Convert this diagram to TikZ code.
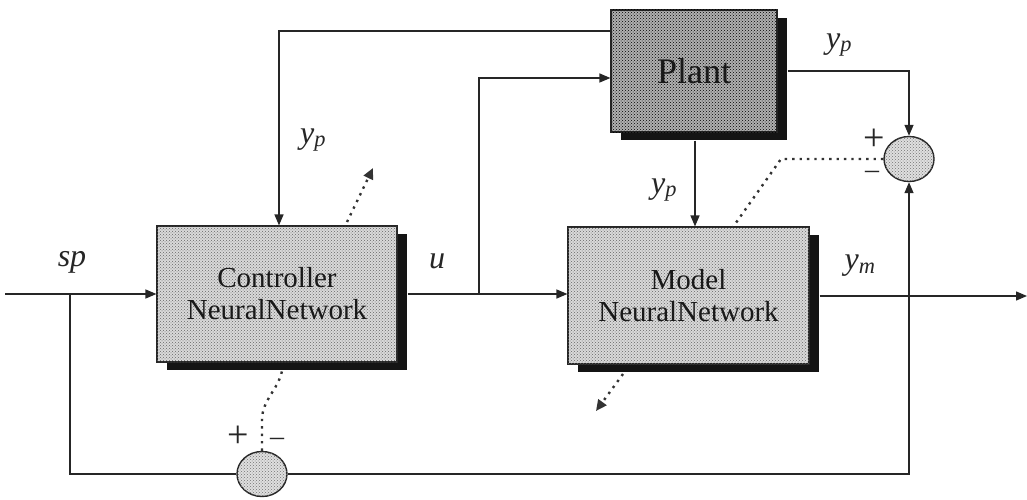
\documentclass[tikz,border=0pt]{standalone}
\usepackage{fontspec}
\setmainfont{Liberation Serif}
\usetikzlibrary{arrows.meta,shapes.geometric,patterns,shadows}

\begin{document}
\begin{tikzpicture}[x=1pt,y=-1pt,
  wire/.style={line width=1.4pt,draw=black!85},
  arr/.style={wire,-{Triangle[length=11pt,width=9pt]}},
  dots/.style={line width=2.4pt,draw=black!80,dash pattern=on 2.4pt off 5pt},
  dotarr/.style={dots,-{Triangle[length=11pt,width=10pt]}},
  boxbase/.style={draw=black!85,line width=1.1pt,rectangle,
    drop shadow={shadow xshift=10pt,shadow yshift=-8pt,fill=black!92,opacity=1},
    text=black!90,align=center,inner sep=0pt},
  blockbox/.style={boxbase,fill=gray!30,
    postaction={pattern=crosshatch dots,pattern color=black!60},
    font=\fontsize{29}{32}\selectfont},
  plantbox/.style={boxbase,fill=gray!62,
    postaction={pattern=crosshatch dots,pattern color=black},
    font=\fontsize{36}{38}\selectfont},
  sumnode/.style={draw=black!85,line width=1.4pt,ellipse,minimum width=50pt,
    minimum height=45pt,inner sep=0pt,fill=gray!25,
    postaction={pattern=crosshatch dots,pattern color=black!55}},
  lbl/.style={font=\fontsize{32}{32}\selectfont\itshape,text=black!85},
  plussign/.style={font=\fontsize{38}{38}\selectfont,text=black!85,inner sep=0pt,
    text height=14pt,text depth=0pt},
  minussign/.style={font=\fontsize{28}{28}\selectfont,text=black!85,inner sep=0pt,
    text height=10pt,text depth=0pt}]

\useasboundingbox (0,0) rectangle (1027,500);

% blocks
\node[blockbox,minimum width=240pt,minimum height=136pt] (ctrl) at (277,294)
  {Controller\\NeuralNetwork};
\node[blockbox,minimum width=241pt,minimum height=137pt] (model) at (688.5,295.5)
  {Model\\NeuralNetwork};
\node[plantbox,minimum width=166pt,minimum height=122pt] (plant) at (694,71)
  {Plant};

% summing junctions
\node[sumnode] (sumr) at (909,159) {};
\node[sumnode] (sumb) at (262,474) {};

% junction points and free ends
\coordinate (in) at (5,294);
\coordinate (spj) at (70,294);
\coordinate (uj) at (479,294);
\coordinate (out) at (1027,296);

% signal lines
\draw[arr] (in) -- (ctrl.west);
\draw[arr] ([xshift=10pt]ctrl.east) -- (model.west |- ctrl.east);
\draw[arr] (uj) |- (plant.west |- 0,78);
\draw[arr] (plant.west |- 0,31) -| (ctrl.north -| 279,0);
\draw[arr] ([yshift=-8pt]plant.south -| 695,0) -- (model.north -| 695,0);
\draw[arr] ([xshift=10pt]plant.east |- 0,71) -| (sumr.north);
\draw[arr] ([xshift=10pt]model.east |- 0,296) -- (out);
\draw[wire] (spj) |- (sumb.west);
\draw[arr] (sumb.east) -| (sumr.south);

% learning paths
\draw[dotarr] (347,222) -- (373,168);
\draw[dotarr] (623,374) -- (596,411);
\draw[dots] (sumr.west) -- (781,159) -- (733,227);
\draw[dots] (sumb.north) -- (262,420) .. controls (262,400) and (278,390) .. (282,371);

% labels
\node[lbl] at (72,262) {sp};
\node[lbl] at (437,261) {u};
\node[lbl] at (313,140) {y\textsubscript{p}};
\node[lbl] at (664,190) {y\textsubscript{p}};
\node[lbl] at (839,45) {y\textsubscript{p}};
\node[lbl] at (860,266) {y\textsubscript{m}};

% signs
\node[plussign] at (874,143) {+};
\node[minussign] at (872,173) {\textendash};
\node[plussign] at (238,440) {+};
\node[minussign] at (277,440) {\textendash};
\end{tikzpicture}
\end{document}
